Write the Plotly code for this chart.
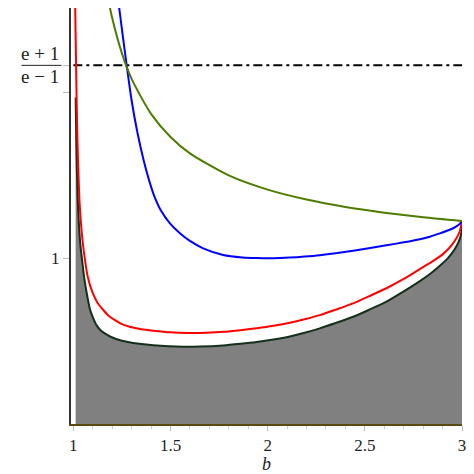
import plotly.graph_objects as go

# Green curve
b_green = [1.18, 1.2, 1.25, 1.3, 1.4, 1.5, 1.6, 1.8, 2.0, 2.2, 2.4, 2.6, 2.8, 3.0]
y_green = [2.56, 2.449, 2.236, 2.082, 1.871, 1.732, 1.633, 1.5, 1.414, 1.354, 1.309, 1.275, 1.247, 1.225]

# Blue curve
b_blue = [1.225, 1.236, 1.2745, 1.30, 1.33, 1.363, 1.39, 1.415, 1.45, 1.497, 1.55, 1.6, 1.668, 1.771,
          1.87, 1.943, 2.03, 2.114, 2.19, 2.268, 2.35, 2.44, 2.52, 2.611, 2.70, 2.783, 2.834, 2.886,
          2.937, 2.971, 2.988, 3.0]
y_blue = [2.62, 2.51, 2.164, 1.952, 1.757, 1.585, 1.47, 1.38, 1.29, 1.211, 1.15, 1.105, 1.060, 1.020,
          1.005, 1.001, 1.0, 1.004, 1.01, 1.018, 1.03, 1.046, 1.06, 1.078, 1.096, 1.115, 1.13, 1.150,
          1.172, 1.193, 1.207, 1.225]

# Red curve
b_red = [1.009, 1.013, 1.017, 1.021, 1.026, 1.031, 1.037, 1.043, 1.05, 1.06, 1.074, 1.1, 1.125, 1.154,
         1.18, 1.214, 1.25, 1.29, 1.35, 1.411, 1.5, 1.583, 1.68, 1.771, 1.86, 1.943, 2.03, 2.114, 2.19,
         2.268, 2.35, 2.44, 2.52, 2.611, 2.70, 2.783, 2.84, 2.902, 2.954, 2.988, 3.0]
y_red = [2.56, 2.25, 1.95, 1.72, 1.52, 1.36, 1.25, 1.16, 1.08, 0.99, 0.889, 0.789, 0.73, 0.688,
         0.655, 0.627, 0.603, 0.587, 0.572, 0.563, 0.553, 0.549, 0.551, 0.556, 0.566, 0.578, 0.593, 0.611, 0.632,
         0.657, 0.69, 0.728, 0.77, 0.819, 0.875, 0.935, 0.975, 1.025, 1.09, 1.16, 1.225]

# Black lower boundary (gray region below it)
b_black = [1.012, 1.016, 1.021, 1.026, 1.031, 1.038, 1.046, 1.055, 1.069, 1.086, 1.10, 1.12, 1.14, 1.16,
           1.189, 1.22, 1.275, 1.35, 1.411, 1.49, 1.566, 1.65, 1.771, 1.86, 1.943, 2.03, 2.114, 2.19,
           2.268, 2.35, 2.44, 2.52, 2.611, 2.70, 2.783, 2.84, 2.886, 2.923, 2.954, 2.975, 2.988, 2.996, 3.0]
y_black = [1.97, 1.65, 1.42, 1.27, 1.16, 1.06, 0.98, 0.889, 0.789, 0.69, 0.645, 0.595, 0.566, 0.548,
           0.528, 0.513, 0.496, 0.482, 0.475, 0.469, 0.466, 0.467, 0.474, 0.484, 0.495, 0.51, 0.528, 0.55,
           0.577, 0.609, 0.647, 0.688, 0.738, 0.80, 0.862, 0.91, 0.955, 0.995, 1.04, 1.08, 1.115, 1.15, 1.19]

# Horizontal reference level (e+1)/(e-1)
ref_level = 2.1640
b_ref = [1.0, 3.0]

ytick_vals = [1, 2, ref_level]
ytick_text = ["1", "", ""]
xtick_vals = [1, 1.5, 2, 2.5, 3]
xtick_text = ["1", "1.5", "2", "2.5", "3"]

FONT = "Times New Roman, Liberation Serif, Times, serif"
TXT = "#222222"

fig = go.Figure()

line_kw = dict(width=2, shape="spline", smoothing=0.7)
fig.add_trace(go.Scatter(x=b_black, y=y_black, mode="lines", fill="tozeroy",
                         fillcolor="#808080", line=dict(color="#14301a", **line_kw),
                         hoverinfo="skip", showlegend=False))
fig.add_trace(go.Scatter(x=b_ref, y=[ref_level, ref_level], mode="lines",
                         line=dict(color="black", width=2, dash="9px,4px,3px,4px"),
                         showlegend=False))
fig.add_trace(go.Scatter(x=b_red, y=y_red, mode="lines",
                         line=dict(color="#ff0000", **line_kw), showlegend=False))
fig.add_trace(go.Scatter(x=b_blue, y=y_blue, mode="lines",
                         line=dict(color="#0000ff", **line_kw), showlegend=False))
fig.add_trace(go.Scatter(x=b_green, y=y_green, mode="lines",
                         line=dict(color="#4d7c00", **line_kw), showlegend=False))

# page has an 8px body margin; figure is sized to fit the 474px window
FW, FH = 466, 466
L, R, T, B = 63, 12, 0, 50
W = FW - L - R

fig.update_layout(
    width=FW, height=FH,
    margin=dict(l=L, r=R, t=T, b=B),
    plot_bgcolor="white", paper_bgcolor="white",
    font=dict(family=FONT, size=16, color=TXT),
    xaxis=dict(range=[0.988, 3.0], tickvals=xtick_vals, ticktext=xtick_text,
               showgrid=False, zeroline=False, showline=True, linecolor="#5a4a10", linewidth=2,
               ticks="outside", ticklen=5, tickcolor="#bbbbbb", tickwidth=1,
               minor=dict(dtick=0.1, tick0=1, ticks="outside", ticklen=3, tickcolor="#cccccc"),
               tickfont=dict(family=FONT, size=17, color=TXT),
               title=dict(text="<i>b</i>", font=dict(family=FONT, size=18, color=TXT), standoff=0)),
    yaxis=dict(range=[0, 2.51], tickvals=ytick_vals, ticktext=ytick_text,
               showgrid=False, zeroline=False, showline=True, linecolor="#333333", linewidth=2,
               ticks="outside", ticklen=6, tickcolor="#bbbbbb", tickwidth=1,
               tickfont=dict(family=FONT, size=17, color=TXT)),
)


def px(xpix):
    return (xpix - L) / W


# fraction label for (e+1)/(e-1)
fig.add_annotation(x=px(32), y=ref_level, xref="paper", yref="y", text="e + 1",
                   xanchor="center", yanchor="middle",
                   showarrow=False, yshift=12, font=dict(family=FONT, size=19, color=TXT))
fig.add_annotation(x=px(32), y=ref_level, xref="paper", yref="y", text="e \u2212 1",
                   xanchor="center", yanchor="middle",
                   showarrow=False, yshift=-11, font=dict(family=FONT, size=19, color=TXT))
fig.add_shape(type="line", xref="paper", yref="y", x0=px(13.5), x1=px(53.5),
              y0=ref_level, y1=ref_level, line=dict(color=TXT, width=1))

fig.write_html("out.html")
